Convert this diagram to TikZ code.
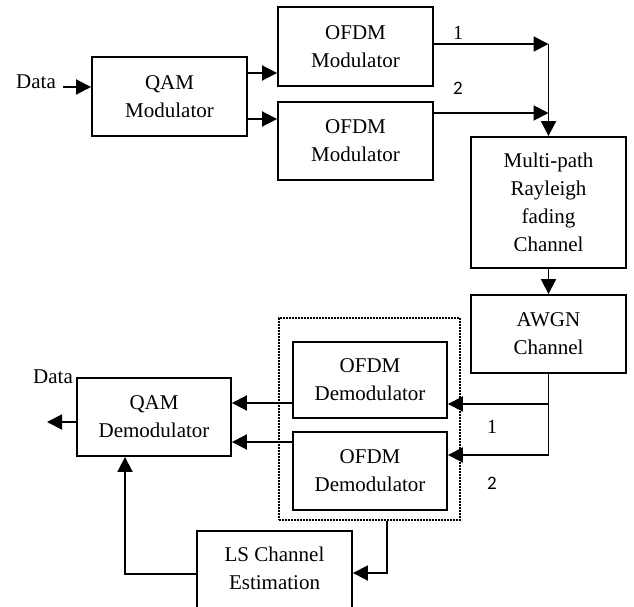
\documentclass[tikz,border=0pt]{standalone}
\usepackage{fontspec}
\setmainfont{Liberation Serif}
\newfontfamily\labsans{Carlito}
\usetikzlibrary{arrows.meta,calc}
\begin{document}
\begin{tikzpicture}[x=1pt,y=-1pt,
  lw/.style={line width=1.9pt},
  blk/.style={draw,lw,rectangle,inner sep=0pt,align=center,font=\fontsize{21}{28}\selectfont},
  txt/.style={inner sep=0pt,align=center,font=\fontsize{21}{28}\selectfont},
  arr/.style={lw,-{Triangle[length=15pt,width=15pt]}},
  lab/.style={inner sep=0pt,font=\fontsize{20}{22}\selectfont},
  labs/.style={inner sep=0pt,font=\labsans\fontsize{19}{22}\selectfont}]
\useasboundingbox (0,0) rectangle (634,607);
\clip (0,0) rectangle (634,607);
% blocks
\node[blk,minimum width=155pt,minimum height=79pt] (qm) at (169.5,96.5) {QAM\\Modulator};
\node[blk,minimum width=155pt,minimum height=79pt] (om1) at (355.5,46.5) {OFDM\\Modulator};
\node[blk,minimum width=155pt,minimum height=78pt] (om2) at (355.5,141) {OFDM\\Modulator};
\node[blk,minimum width=155pt,minimum height=131pt] (mp) at (548.5,202.5) {Multi-path\\Rayleigh\\fading\\Channel};
\node[blk,minimum width=155pt,minimum height=78pt] (aw) at (548.5,334) {AWGN\\Channel};
\node[draw,line width=1.6pt,dash pattern=on 1.6pt off 1.4pt,minimum width=181pt,minimum height=202pt,inner sep=0pt] (grp) at (369.5,419) {};
\node[blk,minimum width=154pt,minimum height=76pt] (od1) at (370,380) {OFDM\\Demodulator};
\node[blk,minimum width=154pt,minimum height=78pt] (od2) at (370,471) {OFDM\\Demodulator};
\node[blk,minimum width=154pt,minimum height=78pt] (qd) at (154,417) {QAM\\Demodulator};
\node[blk,minimum width=155pt,minimum height=90pt] (ls) at (274.5,576) {};
\node[txt] (lst) at (274.5,568.5) {LS Channel\\Estimation};
% labels
\node[inner sep=0pt,font=\fontsize{21}{24}\selectfont] (din) at (36,82) {Data};
\node[inner sep=0pt,font=\fontsize{21}{24}\selectfont] (dout) at (53,377) {Data};
\node[lab] (l1a) at (458,33) {1};
\node[labs] (l2a) at (458,88) {2};
\node[lab] (l1b) at (492,427) {1};
\node[labs] (l2b) at (492,483) {2};
% connector points
\coordinate (dst) at (63,87);
\coordinate (j) at (548.5,44);
\coordinate (j2) at (548.5,113);
\coordinate (outend) at (47,422);
\coordinate (gb) at (387,573);
% connectors
\draw[arr] (dst) -- (dst -| qm.west);
\draw[arr] (qm.east |- 0,73) -- (om1.west |- 0,73);
\draw[arr] (qm.east |- 0,119) -- (om2.west |- 0,119);
\draw[arr] (om1.east |- j) -- (j);
\draw[arr] (om2.east |- j2) -- (j2);
\draw[arr] (j) -- (mp.north);
\draw[arr] (mp.south) -- (aw.north);
\draw[lw] (aw.south) -- (aw.south |- 0,455);
\draw[arr] (aw.south |- 0,404) -- (od1.east |- 0,404);
\draw[arr] (aw.south |- 0,455) -- (od2.east |- 0,455);
\draw[arr] (od1.west |- 0,403) -- (qd.east |- 0,403);
\draw[arr] (od2.west |- 0,442) -- (qd.east |- 0,442);
\draw[arr] (qd.west |- outend) -- (outend);
\draw[arr] (grp.south -| gb) -- (gb) -- (ls.east |- gb);
\draw[arr] (ls.west |- 0,574) -- (125,574) -- (qd.south -| 125,574);
\end{tikzpicture}
\end{document}
